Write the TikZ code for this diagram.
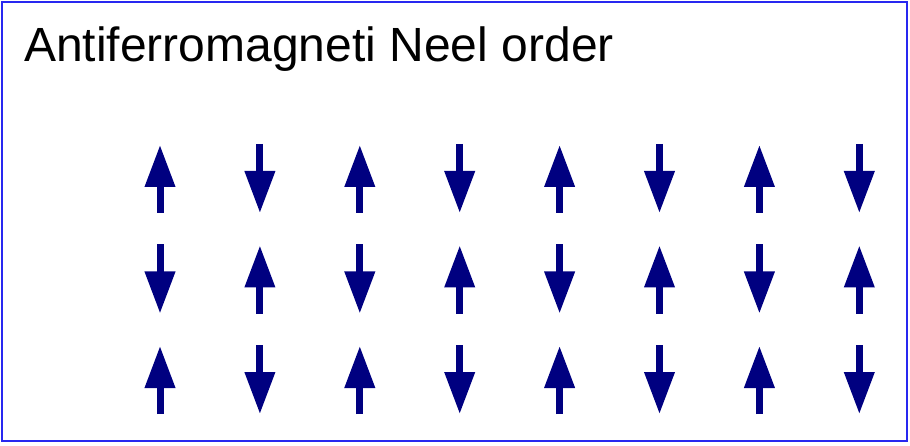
\documentclass[tikz,border=0pt]{standalone}
\usepackage{fontspec}
\setmainfont{Liberation Sans}
\usetikzlibrary{arrows.meta}
\definecolor{navy}{RGB}{0,0,128}
\definecolor{frameblue}{RGB}{40,40,240}
\tikzset{
  spin/.style={draw=navy,line width=7pt,-{Triangle[length=42pt,width=29pt]}},
  frame/.style={draw=frameblue,line width=2pt},
  heading/.style={font=\fontsize{48}{56}\selectfont,anchor=base west,inner sep=0pt},
}
\begin{document}
\begin{tikzpicture}[x=1pt,y=-1pt]
  \useasboundingbox (0,0) rectangle (910,446);
  \draw[frame] (2,2) rectangle (907,441);
  \node[heading] (title) at (24,62) {Antiferromagneti Neel order};
  % spins alternate up/down on the lattice
  \foreach \col in {0,...,7}
    \foreach \row in {0,1,2}
    {
      \pgfmathsetmacro{\xc}{160+99.9*\col}
      \pgfmathsetmacro{\yc}{179+100.5*\row}
      \pgfmathtruncatemacro{\spinsign}{mod(\col+\row,2)}
      \ifnum\spinsign=0
        \draw[spin] (\xc,\yc+34) -- (\xc,\yc-34);
      \else
        \draw[spin] (\xc,\yc-35) -- (\xc,\yc+34);
      \fi
    }
\end{tikzpicture}
\end{document}
